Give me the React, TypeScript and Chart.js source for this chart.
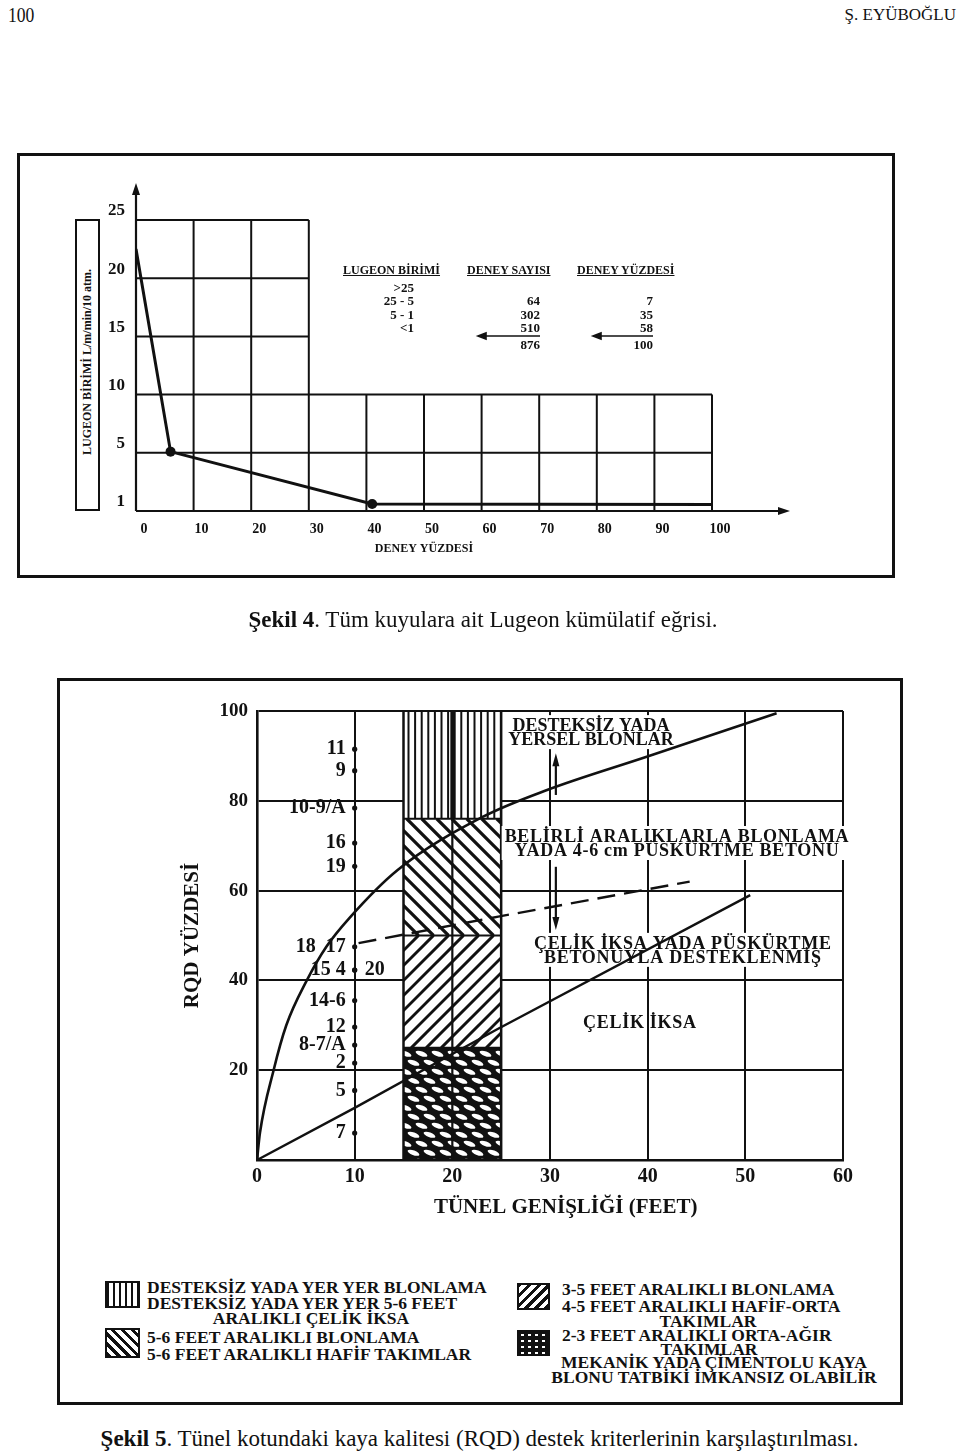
import React, { useEffect, useRef } from 'react';
import { Chart, registerables } from 'chart.js';

Chart.register(...registerables);

const INK = '#111111';
const SERIF = '"Liberation Serif", "Times New Roman", Times, serif';

// ---------- Şekil 4 : Lugeon cumulative curve ----------
const lugeonPercent = [0, 6, 41, 100];
const lugeonUnit = [22.5, 5.1, 0.6, 0.55];
const lugeonMarker = [0, 5, 5, 0];
const fig4XTicks = [0, 10, 20, 30, 40, 50, 60, 70, 80, 90, 100];
const fig4YTicks = [0, 5, 10, 15, 20, 25];
const fig4YTickLabels = ['1', '5', '10', '15', '20', '25'];
const fig4UpperGridX = [10, 20, 30];
const fig4UpperGridY = [15, 20, 25];
const fig4LowerGridX = [10, 20, 30, 40, 50, 60, 70, 80, 90, 100];
const fig4LowerGridY = [5, 10];

const lugeonClasses = ['>25', '25 - 5', '5 - 1', '<1'];
const testCounts = ['', '64', '302', '510'];
const testPercents = ['', '7', '35', '58'];
const testCountTotal = '876';
const testPercentTotal = '100';

// ---------- Şekil 5 : RQD vs tunnel width ----------
const widthTicks = [0, 10, 20, 30, 40, 50, 60];
const rqdTicks = [0, 20, 40, 60, 80, 100];
const rqdTickLabels = ['', '20', '40', '60', '80', '100'];
const upperCurveWidth = [0, 0.3, 1.7, 3, 5.1, 7.1, 9.5, 14.4, 23.1, 29.7, 39.9, 53.2];
const upperCurveRqd = [0, 6, 20, 30, 40, 47.5, 54, 64.6, 76.4, 82.4, 89.8, 99.5];
const lowerLineWidth = [0, 10, 24.5, 50.5];
const lowerLineRqd = [0, 11.6, 29, 59];
const dashedLineWidth = [10.4, 24.7, 44.3];
const dashedLineRqd = [48.3, 54.2, 62];
const caseLabels = ['11', '9', '10-9/A', '16', '19', '18  17', '15 4', '20', '14-6', '12', '8-7/A', '2', '5', '7'];
const caseRqd = [91.5, 86.7, 78.4, 70.6, 65.4, 47.5, 42.3, 42.3, 35.5, 29.6, 25.6, 21.6, 15.5, 6];
const caseSide = ['L', 'L', 'L', 'L', 'L', 'L', 'L', 'R', 'L', 'L', 'L', 'L', 'L', 'L'];
const caseTunnelWidth = 10;
const supportColumn = [15, 25];
const supportColumnDivider = 20;
const zoneBreaks = [0, 25, 50, 76, 100];
const zonePatterns = ['dots', 'slash', 'backslash', 'vertical'];
const regionLabelLines = [
  ['DESTEKSİZ YADA', 'YERSEL BLONLAR'],
  ['BELİRLİ ARALIKLARLA BLONLAMA', 'YADA 4-6 cm PÜSKÜRTME BETONU'],
  ['ÇELİK İKSA YADA PÜSKÜRTME', 'BETONUYLA DESTEKLENMİŞ'],
  ['ÇELİK İKSA'],
];
const regionLabelWidth = [34.2, 43.0, 43.6, 39.2];
const regionLabelRqd = [95.3, 70.6, 46.8, 30.7];
const regionLabelBacked = [true, true, true, false];
const arrowWidth = [30.6, 30.6];
const arrowFrom = [81.3, 65.3];
const arrowTo = [90.6, 51.2];

function seg(ctx: CanvasRenderingContext2D, x0: number, y0: number, x1: number, y1: number) {
  ctx.beginPath();
  ctx.moveTo(x0, y0);
  ctx.lineTo(x1, y1);
  ctx.stroke();
}

function head(ctx: CanvasRenderingContext2D, x: number, y: number, dx: number, dy: number, len: number, half: number) {
  const px = -dy, py = dx;
  ctx.beginPath();
  ctx.moveTo(x, y);
  ctx.lineTo(x - dx * len + px * half, y - dy * len + py * half);
  ctx.lineTo(x - dx * len - px * half, y - dy * len - py * half);
  ctx.closePath();
  ctx.fill();
}

function drawZone(ctx: CanvasRenderingContext2D, kind: string, x0: number, y0: number, x1: number, y1: number) {
  const w = x1 - x0, h = y1 - y0;
  ctx.save();
  ctx.beginPath();
  ctx.rect(x0, y0, w, h);
  ctx.clip();
  ctx.fillStyle = '#fff';
  ctx.fillRect(x0, y0, w, h);
  ctx.strokeStyle = INK;
  if (kind === 'vertical') {
    ctx.lineWidth = 2;
    for (let px = x0 + 5; px < x1; px += 6.6) seg(ctx, px, y0, px, y1);
  } else if (kind === 'backslash') {
    ctx.lineWidth = 3.2;
    for (let c = -h; c < w + h; c += 15) seg(ctx, x0 + c, y0, x0 + c + h, y0 + h);
  } else if (kind === 'slash') {
    ctx.lineWidth = 3;
    for (let c = -h; c < w + h; c += 15) seg(ctx, x0 + c, y1, x0 + c + h, y1 - h);
  } else {
    ctx.fillStyle = INK;
    ctx.fillRect(x0, y0, w, h);
    ctx.fillStyle = '#fff';
    let row = 0;
    for (let py = y0 + 6; py < y1 + 4; py += 9, row++) {
      for (let px = x0 + (row % 2 ? 10 : 2); px < x1 + 8; px += 16) {
        ctx.beginPath();
        ctx.ellipse(px, py, 6.2, 2.4, 0.35, 0, Math.PI * 2);
        ctx.fill();
      }
    }
  }
  ctx.restore();
}

function Fig4Chart() {
  const ref = useRef<HTMLCanvasElement>(null);
  useEffect(() => {
    const gridPlugin = {
      id: 'fig4grid',
      beforeDatasetsDraw(chart: any) {
        const { ctx, scales } = chart;
        const X = (v: number) => scales.x.getPixelForValue(v);
        const Y = (v: number) => scales.y.getPixelForValue(v);
        ctx.save();
        ctx.strokeStyle = INK;
        ctx.fillStyle = INK;
        ctx.lineWidth = 2;
        fig4UpperGridX.forEach((v) => seg(ctx, X(v), Y(10), X(v), Y(25)));
        fig4UpperGridY.forEach((v) => seg(ctx, X(0), Y(v), X(30), Y(v)));
        fig4LowerGridX.forEach((v) => seg(ctx, X(v), Y(0), X(v), Y(10)));
        fig4LowerGridY.forEach((v) => seg(ctx, X(0), Y(v), X(100), Y(v)));
        ctx.lineWidth = 2.2;
        const yTip = Y(25) - 37;
        const xTip = X(100) + 78;
        seg(ctx, X(0), Y(0), X(0), yTip + 6);
        head(ctx, X(0), yTip, 0, -1, 12, 4);
        seg(ctx, X(0), Y(0), xTip - 6, Y(0));
        head(ctx, xTip, Y(0), 1, 0, 12, 4);
        ctx.restore();
      },
    };
    const chart = new Chart(ref.current!, {
      type: 'scatter',
      data: {
        datasets: [
          {
            data: lugeonPercent.map((x, i) => ({ x, y: lugeonUnit[i] })),
            showLine: true,
            borderColor: INK,
            borderWidth: 3,
            pointRadius: lugeonMarker,
            pointBackgroundColor: INK,
            pointBorderWidth: 0,
            tension: 0,
          },
        ],
      },
      options: {
        animation: false,
        responsive: false,
        devicePixelRatio: 1,
        layout: { padding: { left: 0, top: 50, right: 108, bottom: 0 } },
        plugins: { legend: { display: false }, tooltip: { enabled: false } },
        scales: {
          x: {
            type: 'linear',
            min: 0,
            max: 100,
            afterBuildTicks: (s: any) => { s.ticks = fig4XTicks.map((v) => ({ value: v })); },
            afterFit: (s: any) => { s.height = 59; },
            grid: { display: false },
            border: { display: false },
            ticks: { padding: 2, labelOffset: 8, color: INK, autoSkip: false, maxRotation: 0, font: { family: SERIF, size: 14, weight: 'bold' } },
            title: { display: true, text: 'DENEY YÜZDESİ', color: INK, padding: { top: 0, bottom: 14 }, font: { family: SERIF, size: 12, weight: 'bold' } },
          },
          y: {
            type: 'linear',
            min: 0,
            max: 25,
            afterBuildTicks: (s: any) => { s.ticks = fig4YTicks.map((v) => ({ value: v })); },
            afterFit: (s: any) => { s.width = 36; },
            grid: { display: false },
            border: { display: false },
            ticks: { padding: 3, labelOffset: -9, color: INK, autoSkip: false, font: { family: SERIF, size: 17, weight: 'bold' }, callback: (_v: any, i: number) => fig4YTickLabels[i] },
          },
        },
      } as any,
      plugins: [gridPlugin],
    });
    return () => chart.destroy();
  }, []);
  return <canvas ref={ref} width={720} height={400} style={{ position: 'absolute', left: 100, top: 170 }} />;
}

function Fig5Chart() {
  const ref = useRef<HTMLCanvasElement>(null);
  useEffect(() => {
    const deco = {
      id: 'fig5deco',
      beforeDatasetsDraw(chart: any) {
        const { ctx, scales } = chart;
        const X = (v: number) => scales.x.getPixelForValue(v);
        const Y = (v: number) => scales.y.getPixelForValue(v);
        const c0 = X(supportColumn[0]);
        const c1 = X(supportColumn[1]);
        const cm = X(supportColumnDivider);
        zonePatterns.forEach((p, i) => drawZone(ctx, p, c0, Y(zoneBreaks[i + 1]), c1, Y(zoneBreaks[i])));
        ctx.save();
        ctx.strokeStyle = INK;
        ctx.fillStyle = INK;
        ctx.lineWidth = 2;
        zoneBreaks.forEach((b) => seg(ctx, c0, Y(b), c1, Y(b)));
        ctx.lineWidth = 2.2;
        seg(ctx, cm, Y(0), cm, Y(zoneBreaks[3]));
        ctx.lineWidth = 4;
        seg(ctx, cm, Y(zoneBreaks[3]), cm, Y(100));
        ctx.lineWidth = 2.5;
        seg(ctx, c0, Y(0), c0, Y(100));
        seg(ctx, c1, Y(0), c1, Y(100));

        // region labels
        ctx.font = `bold 18px ${SERIF}`;
        ctx.textAlign = 'center';
        ctx.textBaseline = 'middle';
        regionLabelLines.forEach((lines, i) => {
          (ctx as any).letterSpacing = i === 0 ? '0px' : '0.7px';
          const cx = X(regionLabelWidth[i]);
          const cy = Y(regionLabelRqd[i]);
          const lh = 14;
          const top = cy - (lines.length * lh) / 2;
          if (regionLabelBacked[i]) {
            const w = Math.max(...lines.map((t) => ctx.measureText(t).width));
            ctx.fillStyle = '#fff';
            ctx.fillRect(cx - w / 2 - 3, top - 3, w + 6, lines.length * lh + 6);
          }
          ctx.fillStyle = INK;
          lines.forEach((t, k) => ctx.fillText(t, cx, top + lh * k + lh / 2 + 1));
        });
        (ctx as any).letterSpacing = '0px';

        // arrows
        ctx.lineWidth = 2.2;
        arrowWidth.forEach((w, i) => {
          const ax = X(w);
          const y0 = Y(arrowFrom[i]);
          const y1 = Y(arrowTo[i]);
          const dir = y1 < y0 ? -1 : 1;
          seg(ctx, ax, y0, ax, y1 - dir * 8);
          head(ctx, ax, y1, 0, dir, 13, 3.5);
        });
        ctx.restore();
      },
      afterDatasetsDraw(chart: any) {
        const { ctx, scales } = chart;
        const X = (v: number) => scales.x.getPixelForValue(v);
        const Y = (v: number) => scales.y.getPixelForValue(v);
        ctx.save();
        ctx.fillStyle = INK;
        ctx.font = `bold 20px ${SERIF}`;
        ctx.textBaseline = 'middle';
        caseLabels.forEach((t, i) => {
          const px = X(caseTunnelWidth);
          const py = Y(caseRqd[i]);
          if (caseSide[i] === 'L') {
            ctx.textAlign = 'right';
            ctx.fillText(t, px - 9, py);
          } else {
            ctx.textAlign = 'left';
            ctx.fillText(t, px + 10, py);
          }
        });
        ctx.restore();
      },
    };

    const chart = new Chart(ref.current!, {
      type: 'scatter',
      data: {
        datasets: [
          {
            data: upperCurveWidth.map((x, i) => ({ x, y: upperCurveRqd[i] })),
            showLine: true,
            borderColor: INK,
            borderWidth: 2.6,
            pointRadius: 0,
            cubicInterpolationMode: 'monotone',
          },
          {
            data: lowerLineWidth.map((x, i) => ({ x, y: lowerLineRqd[i] })),
            showLine: true,
            borderColor: INK,
            borderWidth: 2.4,
            pointRadius: 0,
            tension: 0,
          },
          {
            data: dashedLineWidth.map((x, i) => ({ x, y: dashedLineRqd[i] })),
            showLine: true,
            borderColor: INK,
            borderWidth: 2.4,
            borderDash: [18, 9],
            pointRadius: 0,
            tension: 0,
          },
          {
            data: caseRqd.map((y) => ({ x: caseTunnelWidth, y })),
            showLine: false,
            pointRadius: 2.6,
            pointBackgroundColor: INK,
            pointBorderWidth: 0,
          },
        ],
      },
      options: {
        animation: false,
        responsive: false,
        devicePixelRatio: 1,
        layout: { padding: { left: 30, top: 21, right: 30, bottom: 0 } },
        plugins: { legend: { display: false }, tooltip: { enabled: false } },
        scales: {
          x: {
            type: 'linear',
            min: 0,
            max: 60,
            afterBuildTicks: (s: any) => { s.ticks = widthTicks.map((v) => ({ value: v })); },
            afterFit: (s: any) => { s.height = 60; },
            grid: { color: INK, lineWidth: 2, drawTicks: false },
            border: { display: true, color: INK, width: 2.6 },
            ticks: { padding: 5, color: INK, autoSkip: false, maxRotation: 0, font: { family: SERIF, size: 20, weight: 'bold' } },
            title: { display: true, text: '      TÜNEL GENİŞLİĞİ (FEET)', color: INK, padding: { top: 0, bottom: 0 }, font: { family: SERIF, size: 21, weight: 'bold' } },
          },
          y: {
            type: 'linear',
            min: 0,
            max: 100,
            afterBuildTicks: (s: any) => { s.ticks = rqdTicks.map((v) => ({ value: v })); },
            afterFit: (s: any) => { s.width = 77; },
            grid: { color: INK, lineWidth: 2, drawTicks: false },
            border: { display: true, color: INK, width: 2.6 },
            ticks: { padding: 9, color: INK, autoSkip: false, font: { family: SERIF, size: 19, weight: 'bold' }, callback: (_v: any, i: number) => rqdTickLabels[i] },
            title: { display: true, text: 'RQD YÜZDESİ', color: INK, padding: { top: 0, bottom: 0 }, font: { family: SERIF, size: 21, weight: 'bold' } },
          },
        },
      } as any,
      plugins: [deco],
    });
    return () => chart.destroy();
  }, []);
  return <canvas ref={ref} width={723} height={530} style={{ position: 'absolute', left: 150, top: 690 }} />;
}

type TProps = { x: number; y: number; a?: 'l' | 'c' | 'r'; size: number; bold?: boolean; children: React.ReactNode; style?: React.CSSProperties };
function T({ x, y, a = 'l', size, bold, children, style }: TProps) {
  const tx = a === 'c' ? '-50%' : a === 'r' ? '-100%' : '0';
  return (
    <div
      style={{
        position: 'absolute',
        left: x,
        top: y,
        transform: `translate(${tx}, -50%)`,
        fontSize: size,
        fontWeight: bold ? 'bold' : 'normal',
        lineHeight: 1,
        whiteSpace: 'nowrap',
        ...style,
      }}
    >
      {children}
    </div>
  );
}

const swatchBase: React.CSSProperties = { position: 'absolute', border: '2px solid #111', boxSizing: 'border-box' };
const LEG = 17.5;

export default function App() {
  const rowsY = [287, 300, 314, 327];
  return (
    <div style={{ position: 'absolute', left: 0, top: 0, width: 960, height: 1456, background: '#fff', overflow: 'hidden', fontFamily: SERIF, color: INK }}>
      {/* page header */}
      <div style={{ position: 'absolute', left: 8, top: 4, fontSize: 22, lineHeight: 1, transform: 'scaleX(0.8)', transformOrigin: 'left top' }}>100</div>
      <T x={956} y={14} a="r" size={17}>Ş. EYÜBOĞLU</T>

      {/* Şekil 4 */}
      <div style={{ position: 'absolute', left: 17, top: 153, width: 878, height: 425, border: '3px solid #111', boxSizing: 'border-box' }} />
      <div style={{ position: 'absolute', left: 75, top: 219, width: 25, height: 292, border: '2px solid #111', boxSizing: 'border-box' }} />
      <div style={{ position: 'absolute', left: 87, top: 362, transform: 'translate(-50%, -50%) rotate(-90deg)', fontSize: 12, fontWeight: 'bold', whiteSpace: 'nowrap', lineHeight: 1 }}>
        LUGEON BİRİMİ L/m/min/10 atm.
      </div>
      <Fig4Chart />

      <T x={343} y={270} size={12} bold style={{ textDecoration: 'underline' }}>LUGEON BİRİMİ</T>
      <T x={467} y={270} size={12} bold style={{ textDecoration: 'underline' }}>DENEY SAYISI</T>
      <T x={577} y={270} size={12} bold style={{ textDecoration: 'underline' }}>DENEY YÜZDESİ</T>
      {lugeonClasses.map((t, i) => (
        <T key={'c' + i} x={414} y={rowsY[i]} a="r" size={13} bold>{t}</T>
      ))}
      {testCounts.map((t, i) => (t ? <T key={'n' + i} x={540} y={rowsY[i]} a="r" size={13} bold>{t}</T> : null))}
      {testPercents.map((t, i) => (t ? <T key={'p' + i} x={653} y={rowsY[i]} a="r" size={13} bold>{t}</T> : null))}
      <T x={540} y={344} a="r" size={13} bold>{testCountTotal}</T>
      <T x={653} y={344} a="r" size={13} bold>{testPercentTotal}</T>
      <svg width={960} height={600} style={{ position: 'absolute', left: 0, top: 0 }}>
        <g stroke="#111" strokeWidth={1.6} fill="#111">
          <line x1={482} y1={336} x2={540} y2={336} />
          <path d="M478 336 L486 333 L486 339 Z" />
          <line x1={597} y1={336} x2={653} y2={336} />
          <path d="M593 336 L601 333 L601 339 Z" />
        </g>
      </svg>

      <div style={{ position: 'absolute', left: 0, width: 966, top: 606, textAlign: 'center', fontSize: 23, lineHeight: '28px' }}>
        <b>Şekil 4</b>. Tüm kuyulara ait Lugeon kümülatif eğrisi.
      </div>

      {/* Şekil 5 */}
      <div style={{ position: 'absolute', left: 57, top: 678, width: 846, height: 727, border: '3px solid #111', boxSizing: 'border-box' }} />
      <Fig5Chart />

      {/* legend */}
      <div style={{ ...swatchBase, left: 105, top: 1281, width: 35, height: 27, background: 'repeating-linear-gradient(90deg, #111 0 2px, #fff 2px 6px)' }} />
      <div style={{ ...swatchBase, left: 105, top: 1328, width: 35, height: 30, background: 'repeating-linear-gradient(45deg, #111 0 3px, #fff 3px 7px)' }} />
      <div style={{ ...swatchBase, left: 517, top: 1283, width: 33, height: 27, background: 'repeating-linear-gradient(-45deg, #111 0 3px, #fff 3px 7px)' }} />
      <div style={{ ...swatchBase, left: 517, top: 1330, width: 33, height: 26, background: 'radial-gradient(ellipse 2px 1.5px at 50% 50%, #fff 80%, transparent 100%) 0 0 / 7px 6px, #111' }} />

      <T x={147} y={1288} size={LEG} bold>DESTEKSİZ YADA YER YER BLONLAMA</T>
      <T x={147} y={1304} size={LEG} bold>DESTEKSİZ YADA YER YER 5-6 FEET</T>
      <T x={311} y={1319} a="c" size={LEG} bold>ARALIKLI ÇELİK İKSA</T>
      <T x={147} y={1338} size={LEG} bold>5-6 FEET ARALIKLI BLONLAMA</T>
      <T x={147} y={1355} size={LEG} bold>5-6 FEET ARALIKLI HAFİF TAKIMLAR</T>
      <T x={562} y={1290} size={LEG} bold>3-5 FEET ARALIKLI BLONLAMA</T>
      <T x={562} y={1307} size={LEG} bold>4-5 FEET ARALIKLI HAFİF-ORTA</T>
      <T x={708} y={1322} a="c" size={LEG} bold>TAKIMLAR</T>
      <T x={562} y={1336} size={LEG} bold>2-3 FEET ARALIKLI ORTA-AĞIR</T>
      <T x={709} y={1350} a="c" size={LEG} bold>TAKIMLAR</T>
      <T x={714} y={1363} a="c" size={LEG} bold>MEKANİK YADA ÇİMENTOLU KAYA</T>
      <T x={714} y={1378} a="c" size={LEG} bold>BLONU TATBİKİ İMKANSIZ OLABİLİR</T>

      <div style={{ position: 'absolute', left: 0, width: 959, top: 1425, textAlign: 'center', fontSize: 23, lineHeight: '28px' }}>
        <b>Şekil 5</b>. Tünel kotundaki kaya kalitesi (RQD) destek kriterlerinin karşılaştırılması.
      </div>
    </div>
  );
}
